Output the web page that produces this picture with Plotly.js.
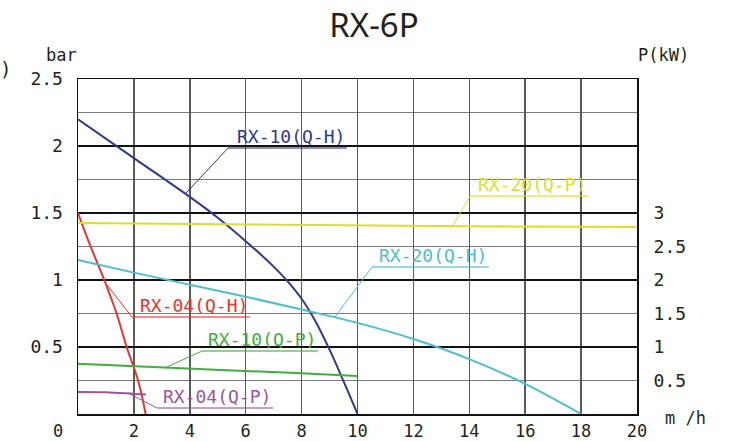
<!DOCTYPE html>
<html>
<head>
<meta charset="utf-8">
<script src="https://cdn.plot.ly/plotly-3.0.1.min.js"></script>
<style>html,body{margin:0;padding:0;background:#fff}</style>
</head>
<body>
<div id="chart" style="width:742px;height:441px"></div>
<script>
// ---- data (flow m3/h, head bar / power kW) ----
const rx10_qh_x = [0, 2, 4, 5, 6, 7, 7.5, 8, 8.5, 9, 9.5, 10];
const rx10_qh_y = [2.2, 1.91, 1.62, 1.465, 1.29, 1.10, 0.99, 0.86, 0.69, 0.48, 0.245, 0];

const rx04_qh_x = [0, 0.45, 0.94, 1.38, 1.74, 2.15, 2.42];
const rx04_qh_y = [1.5, 1.25, 1.0, 0.75, 0.5, 0.25, 0];

const rx20_qh_x = [0, 2, 4, 6, 8, 10, 12, 14, 16, 18];
const rx20_qh_y = [1.15, 1.055, 0.965, 0.875, 0.78, 0.68, 0.56, 0.41, 0.225, 0];

const rx20_qp_x = [0, 5, 10, 15, 20];
const rx20_qp_y = [2.85, 2.83, 2.82, 2.8, 2.79];

const rx10_qp_x = [0, 2, 4, 6, 8, 10];
const rx10_qp_y = [0.75, 0.715, 0.686, 0.645, 0.607, 0.567];

const rx04_qp_x = [0, 1, 2, 2.43];
const rx04_qp_y = [0.33, 0.325, 0.30, 0.29];

const xTicks = [2, 4, 6, 8, 10, 12, 14, 16, 18, 20];
const yTicks = [0.5, 1, 1.5, 2, 2.5];
const yTickText = ['0.5', '1', '1.5', '2', '2.5'];
const y2Ticks = [0.5, 1, 1.5, 2, 2.5, 3];
const y2TickText = ['0.5', '1', '1.5', '2', '2.5', '3'];

const seriesNames = ['RX-10(Q-H)', 'RX-04(Q-H)', 'RX-20(Q-H)', 'RX-20(Q-P)', 'RX-10(Q-P)', 'RX-04(Q-P)'];
const seriesColors = ['#2e3a8c', '#e8352b', '#4dbfca', '#d8e02a', '#3fae3a', '#9a559e'];

// callouts: [curve point x, y(bar scale)], [underline start x, y], underline end x
const calloutPoint = [[3.85, 1.645], [1.05, 0.96], [9.19, 0.724], [13.38, 1.396], [3.18, 0.351], [1.86, 0.149]];
const calloutLine = [[5.37, 1.985], [1.93, 0.724], [10.52, 1.097], [14.03, 1.627], [4.44, 0.47], [2.83, 0.045]];
const calloutEnd = [9.62, 6.15, 14.7, 18.25, 8.59, 6.98];

const MONO = 'DejaVu Sans Mono';
const TXT = '#231f20';

const traces = [
  {x: rx10_qh_x, y: rx10_qh_y, yaxis: 'y', line: {color: seriesColors[0], width: 2, shape: 'spline', smoothing: 1}},
  {x: rx04_qh_x, y: rx04_qh_y, yaxis: 'y', line: {color: seriesColors[1], width: 2, shape: 'spline', smoothing: 1}},
  {x: rx20_qh_x, y: rx20_qh_y, yaxis: 'y', line: {color: seriesColors[2], width: 2, shape: 'spline', smoothing: 1}},
  {x: rx20_qp_x, y: rx20_qp_y, yaxis: 'y2', line: {color: seriesColors[3], width: 2}},
  {x: rx10_qp_x, y: rx10_qp_y, yaxis: 'y2', line: {color: seriesColors[4], width: 2}},
  {x: rx04_qp_x, y: rx04_qp_y, yaxis: 'y2', line: {color: seriesColors[5], width: 2, shape: 'spline', smoothing: 1}}
].map((t, i) => Object.assign(t, {type: 'scatter', mode: 'lines', name: seriesNames[i], hoverinfo: 'skip'}));

const shapes = [];
const annotations = [];
for (let i = 0; i < seriesNames.length; i++) {
  shapes.push({type: 'line', xref: 'x', yref: 'y', x0: calloutPoint[i][0], y0: calloutPoint[i][1],
    x1: calloutLine[i][0], y1: calloutLine[i][1], line: {color: seriesColors[i], width: 1}});
  shapes.push({type: 'line', xref: 'x', yref: 'y', x0: calloutLine[i][0], y0: calloutLine[i][1],
    x1: calloutEnd[i], y1: calloutLine[i][1], line: {color: seriesColors[i], width: 1.5}, opacity: 0.75});
  annotations.push({xref: 'x', yref: 'y', x: calloutEnd[i], y: calloutLine[i][1], xanchor: 'right', yanchor: 'bottom',
    yshift: -1, showarrow: false, text: seriesNames[i], font: {family: MONO, size: 18, color: seriesColors[i]}});
}
annotations.push(
  {xref: 'paper', yref: 'paper', x: -0.0304, y: 1.0716, xanchor: 'center', yanchor: 'middle', showarrow: false, text: 'bar', font: {family: MONO, size: 17, color: TXT}},
  {xref: 'paper', yref: 'paper', x: -0.1295, y: 1.03, xanchor: 'center', yanchor: 'middle', showarrow: false, text: ')', font: {family: MONO, size: 19, color: TXT}},
  {xref: 'paper', yref: 'paper', x: 1.0483, y: 1.0716, xanchor: 'center', yanchor: 'middle', showarrow: false, text: 'P(kW)', font: {family: MONO, size: 17, color: TXT}},
  {xref: 'paper', yref: 'paper', x: 1.0859, y: -0.012, xanchor: 'center', yanchor: 'middle', showarrow: false, text: 'm /h', font: {family: MONO, size: 17, color: TXT}},
  {xref: 'paper', yref: 'paper', x: -0.0358, y: -0.05, xanchor: 'center', yanchor: 'middle', showarrow: false, text: '0', font: {family: MONO, size: 17, color: TXT}}
);

const layout = {
  width: 742, height: 441,
  margin: {l: 78, r: 105, t: 79, b: 27},
  paper_bgcolor: '#fff', plot_bgcolor: '#fff',
  showlegend: false,
  title: {text: 'RX-6P', x: 0.504, xanchor: 'center', xref: 'container', y: 0.943, yref: 'container', yanchor: 'middle',
    font: {family: 'Noto Sans', size: 33, color: TXT}},
  xaxis: {range: [0, 20], tickvals: xTicks, ticks: 'outside', ticklen: 1, tickcolor: 'rgba(0,0,0,0)',
    showgrid: true, gridcolor: '#5a5a5a', gridwidth: 1.5, zeroline: false,
    showline: true, linecolor: '#111', linewidth: 1.5, mirror: true,
    tickfont: {family: MONO, size: 17, color: TXT}, fixedrange: true},
  yaxis: {range: [0, 2.5], tickvals: yTicks, ticktext: yTickText, ticks: 'outside', ticklen: 10, tickcolor: 'rgba(0,0,0,0)',
    showgrid: true, gridcolor: '#111', gridwidth: 1.5, zeroline: false,
    minor: {dtick: 0.25, showgrid: true, gridcolor: '#7a7a7a', gridwidth: 1.5},
    showline: true, linecolor: '#111', linewidth: 1.5, mirror: true,
    tickfont: {family: MONO, size: 18, color: TXT}, fixedrange: true},
  yaxis2: {range: [0, 5], overlaying: 'y', side: 'right', tickvals: y2Ticks, ticktext: y2TickText,
    ticks: 'outside', ticklen: 12, tickcolor: 'rgba(0,0,0,0)', showgrid: false, zeroline: false, showline: false,
    tickfont: {family: MONO, size: 18, color: TXT}, fixedrange: true},
  shapes: shapes,
  annotations: annotations
};

Plotly.newPlot('chart', traces, layout, {displayModeBar: false, staticPlot: true});
</script>
</body>
</html>
